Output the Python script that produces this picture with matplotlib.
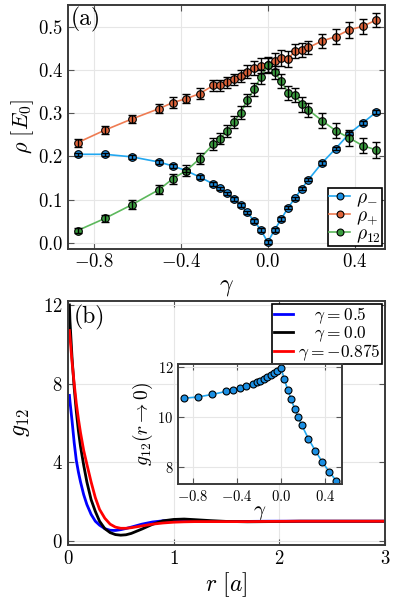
import matplotlib
matplotlib.use("Agg")
import matplotlib.pyplot as plt

plt.rcParams["font.family"] = "serif"
plt.rcParams["font.serif"] = ["cmr10", "DejaVu Serif"]
plt.rcParams["mathtext.fontset"] = "cm"
plt.rcParams["axes.formatter.use_mathtext"] = True
plt.rcParams["axes.unicode_minus"] = True

# ---- data: panel (a) ----
gamma = [-0.875, -0.75, -0.625, -0.5, -0.4375, -0.375, -0.3125, -0.25, -0.21875,
         -0.1875, -0.15625, -0.125, -0.09375, -0.0625, -0.03125, 0.0, 0.03125,
         0.0625, 0.09375, 0.125, 0.15625, 0.1875, 0.25, 0.3125, 0.375, 0.4375, 0.5]

rho_minus = [0.205, 0.205, 0.199, 0.187, 0.178, 0.167, 0.152, 0.136, 0.126,
             0.114, 0.101, 0.087, 0.070, 0.050, 0.029, 0.001, 0.029,
             0.055, 0.081, 0.103, 0.125, 0.146, 0.185, 0.218, 0.253, 0.278, 0.303]
rho_minus_err = [0.004] * 27

rho_plus = [0.232, 0.261, 0.287, 0.311, 0.325, 0.334, 0.346, 0.365, 0.365,
            0.372, 0.379, 0.387, 0.397, 0.405, 0.411, 0.412, 0.422,
            0.429, 0.426, 0.445, 0.447, 0.453, 0.468, 0.478, 0.494, 0.502, 0.517]
rho_plus_err = [0.009, 0.010, 0.010, 0.011, 0.012, 0.011, 0.012, 0.013, 0.012,
                0.013, 0.013, 0.014, 0.016, 0.017, 0.018, 0.019, 0.019,
                0.018, 0.018, 0.017, 0.016, 0.016, 0.017, 0.017, 0.018, 0.017, 0.017]

rho_12 = [0.028, 0.056, 0.088, 0.123, 0.148, 0.167, 0.195, 0.229, 0.241,
          0.259, 0.279, 0.302, 0.331, 0.356, 0.385, 0.412, 0.395,
          0.375, 0.348, 0.343, 0.321, 0.308, 0.283, 0.260, 0.243, 0.225, 0.215]
rho_12_err = [0.006, 0.008, 0.010, 0.011, 0.012, 0.012, 0.013, 0.013, 0.013,
              0.014, 0.014, 0.014, 0.015, 0.015, 0.016, 0.016, 0.016,
              0.016, 0.016, 0.017, 0.017, 0.017, 0.018, 0.018, 0.018, 0.018, 0.019]

# ---- data: panel (b) ----
r = [0.015, 0.02, 0.04, 0.06, 0.08, 0.10, 0.12, 0.15, 0.18, 0.22, 0.26, 0.30,
     0.35, 0.40, 0.45, 0.50, 0.55, 0.60, 0.70, 0.80, 0.90, 1.00, 1.10, 1.20,
     1.35, 1.50, 1.70, 1.90, 2.20, 2.50, 3.00]
g_05 = [7.4, 7.1, 6.1, 5.0, 4.1, 3.5, 3.0, 2.35, 1.85, 1.35, 1.0, 0.8,
        0.62, 0.54, 0.53, 0.57, 0.63, 0.70, 0.85, 0.96, 1.02, 1.04, 1.03, 1.01,
        0.99, 0.98, 0.99, 1.0, 1.0, 1.0, 1.0]
g_00 = [12.0, 11.2, 9.3, 7.8, 6.6, 5.6, 4.8, 3.85, 3.0, 2.1, 1.5, 1.0,
        0.62, 0.42, 0.32, 0.29, 0.31, 0.38, 0.60, 0.84, 1.02, 1.09, 1.11, 1.08,
        1.03, 0.99, 0.97, 0.98, 1.0, 1.0, 1.0]
g_m0875 = [10.7, 10.4, 9.1, 8.0, 7.0, 6.2, 5.5, 4.6, 3.9, 3.0, 2.2, 1.6,
           1.15, 0.85, 0.70, 0.64, 0.64, 0.67, 0.76, 0.85, 0.91, 0.95, 0.97, 0.98,
           0.98, 0.98, 0.98, 0.99, 1.0, 1.0, 1.0]

# inset: g12(r->0) vs gamma
g12_zero = [10.76, 10.81, 10.91, 11.03, 11.09, 11.17, 11.27, 11.35, 11.41,
            11.47, 11.52, 11.60, 11.68, 11.77, 11.87, 11.99, 11.52,
            11.09, 10.71, 10.33, 10.0, 9.69, 9.12, 8.64, 8.19, 7.80, 7.44]

c_blue, c_blue_line = "#1b8fe3", "#22a7f0"
c_orange, c_orange_line = "#e0643a", "#ee7b52"
c_green, c_green_line = "#3a9c3f", "#5cb85c"


def style_axes(ax, tick_size):
    ax.grid(True, color="#e6e6e6", lw=0.8)
    ax.set_axisbelow(True)
    ax.tick_params(direction="in", top=True, right=True, length=4,
                   width=0.8, labelsize=tick_size, color="#555555")
    for s in ax.spines.values():
        s.set_color("#3a3a3a")
        s.set_linewidth(1.4)


fig = plt.figure(figsize=(3.99, 6.02), dpi=100)

# panel (a)
ax1 = fig.add_axes([0.170, 0.587, 0.795, 0.405])
series = [(rho_minus, rho_minus_err, c_blue, c_blue_line, r"$\rho_{-}$"),
          (rho_plus, rho_plus_err, c_orange, c_orange_line, r"$\rho_{+}$"),
          (rho_12, rho_12_err, c_green, c_green_line, r"$\rho_{12}$")]
handles = []
for vals, errs, fc, lc, lab in series:
    h, = ax1.plot(gamma, vals, "-o", color=lc, lw=1.2, mfc=fc, mec="black",
                  mew=0.8, ms=5.5, label=lab, zorder=3)
    ax1.errorbar(gamma, vals, yerr=errs, fmt="none", ecolor="black",
                 elinewidth=1.0, capsize=2.8, capthick=1.0, zorder=4)
    handles.append(h)
ax1.set_xlim(-0.92, 0.54)
ax1.set_ylim(-0.014, 0.552)
ax1.set_xticks([-0.8, -0.4, 0.0, 0.4])
ax1.set_yticks([0.0, 0.1, 0.2, 0.3, 0.4, 0.5])
style_axes(ax1, 13.5)
ax1.set_xlabel(r"$\gamma$", fontsize=17, labelpad=3)
ax1.set_ylabel(r"$\rho\ [E_0]$", fontsize=16, labelpad=1)
ax1.text(0.008, 0.99, "(a)", transform=ax1.transAxes, ha="left", va="top",
         fontsize=17)
leg1 = ax1.legend(handles=handles, loc="lower right", fontsize=14,
                  fancybox=False, edgecolor="black", framealpha=1,
                  handlelength=1.1, handletextpad=0.3, borderpad=0.05,
                  labelspacing=-0.1, borderaxespad=0.15, markerscale=0.9)
leg1.get_frame().set_linewidth(1.2)

# panel (b)
ax2 = fig.add_axes([0.170, 0.095, 0.795, 0.405])
ax2.plot(r, g_05, color="#0000ff", lw=2,
         label=r"$\hspace{1.1}\gamma = 0.5\hspace{1.5}$")
ax2.plot(r, g_00, color="black", lw=2,
         label=r"$\hspace{1.1}\gamma = 0.0\hspace{1.5}$")
ax2.plot(r, g_m0875, color="#ff0000", lw=2, label=r"$\gamma = -0.875$")
ax2.set_xlim(0, 3)
ax2.set_ylim(-0.2, 12.2)
ax2.set_xticks([0, 1, 2, 3])
ax2.set_yticks([0, 4, 8, 12])
style_axes(ax2, 13.5)
ax2.set_xlabel(r"$r\ [a]$", fontsize=17, labelpad=2)
ax2.set_ylabel(r"$g_{12}$", fontsize=17, labelpad=8)
ax2.text(0.02, 0.985, "(b)", transform=ax2.transAxes, ha="left", va="top",
         fontsize=17)
leg2 = ax2.legend(loc="upper right", fontsize=12.5, fancybox=False,
                  edgecolor="black", framealpha=1, handlelength=1.1,
                  handletextpad=0.3, borderpad=0.1, labelspacing=-0.1,
                  borderaxespad=0.15)
leg2.get_frame().set_linewidth(1.2)

# inset
ax3 = fig.add_axes([0.447, 0.196, 0.409, 0.199])
ax3.plot(gamma, g12_zero, "-o", color=c_blue_line, lw=1.2, mfc=c_blue,
         mec="black", mew=0.8, ms=5)
ax3.set_xlim(-0.93, 0.55)
ax3.set_ylim(7.3, 12.13)
ax3.set_xticks([-0.8, -0.4, 0.0, 0.4])
ax3.set_yticks([8, 10, 12])
style_axes(ax3, 10.5)
ax3.set_xlabel(r"$\gamma$", fontsize=15, labelpad=0)
ax3.set_ylabel(r"$g_{12}(r\rightarrow 0)$", fontsize=14, labelpad=2)

fig.savefig("out.png", dpi=100)
